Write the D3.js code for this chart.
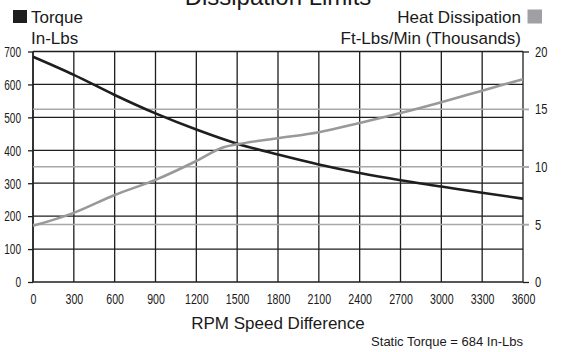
<!DOCTYPE html>
<html>
<head>
<meta charset="utf-8">
<script src="https://cdn.jsdelivr.net/npm/d3@7"></script>
<style>
  html, body { margin: 0; padding: 0; background: #fff; }
  svg { display: block; }
  text { font-family: "Liberation Sans", Arial, sans-serif; fill: #1a1a1a; }
</style>
</head>
<body>
<svg id="chart" width="563" height="352"></svg>
<script>
// ---- data ----
const rpm = [0, 300, 600, 900, 1200, 1500, 1800, 2100, 2400, 2700, 3000, 3300, 3600];
const torque = [684, 629, 568, 512, 463, 420, 387, 357, 331, 309, 290, 271, 253];
const heatRpm = [0, 300, 600, 900, 1200, 1400, 1500, 1800, 2100, 2400, 2700, 3000, 3300, 3600];
const heat = [4.87, 6.0, 7.55, 8.86, 10.5, 11.7, 11.95, 12.48, 13.0, 13.8, 14.66, 15.6, 16.6, 17.6];
const xTicks = [0, 300, 600, 900, 1200, 1500, 1800, 2100, 2400, 2700, 3000, 3300, 3600];
const leftTicks = [0, 100, 200, 300, 400, 500, 600, 700];
const rightTicks = [0, 5, 10, 15, 20];
const heatRefLines = [5, 10, 15];

const svg = d3.select("#chart");
const L = 33, R = 523, T = 51.5, B = 282;

const x = d3.scaleLinear().domain([0, 3600]).range([L, R]);
const yL = d3.scaleLinear().domain([0, 700]).range([B, T]);
const yR = d3.scaleLinear().domain([0, 20]).range([B, T]);

const dark = "#1e1e1e";
const grayLine = "#a8a8a8";
const grayCurve = "#999999";

// vertical grid
svg.append("g").selectAll("line").data(xTicks).join("line")
  .attr("x1", d => x(d)).attr("x2", d => x(d))
  .attr("y1", yL(0)).attr("y2", yL(700))
  .attr("stroke", dark).attr("stroke-width", d => d === 0 ? 1.8 : 1.3);

// horizontal grid
svg.append("g").selectAll("line").data(leftTicks).join("line")
  .attr("x1", x(0)).attr("x2", x(3600))
  .attr("y1", d => yL(d)).attr("y2", d => yL(d))
  .attr("stroke", dark).attr("stroke-width", 1.3);

// heat reference lines (right axis)
svg.append("g").selectAll("line").data(heatRefLines).join("line")
  .attr("x1", x(0)).attr("x2", x(3600) + 6)
  .attr("y1", d => yR(d)).attr("y2", d => yR(d))
  .attr("stroke", grayLine).attr("stroke-width", 1.5);

// axes
function condense(sel, perChar) {
  sel.selectAll("text").each(function() {
    const t = d3.select(this);
    const n = t.text().length;
    t.attr("textLength", n * perChar).attr("lengthAdjust", "spacingAndGlyphs");
  });
}

const gl = svg.append("g").attr("transform", `translate(${L},0)`)
  .call(d3.axisLeft(yL).tickValues(leftTicks).tickSize(5).tickPadding(7).tickFormat(d3.format("d")));
gl.select(".domain").remove();
gl.selectAll(".tick line").attr("stroke", dark).attr("stroke-width", 1.3);
gl.selectAll("text").style("font-size", "15px").style("font-family", "Liberation Sans, Arial, sans-serif").attr("fill", "#1a1a1a");
condense(gl, 5.6);

const gr = svg.append("g").attr("transform", `translate(${R},0)`)
  .call(d3.axisRight(yR).tickValues(rightTicks).tickSize(6).tickPadding(6).tickFormat(d3.format("d")));
gr.select(".domain").remove();
gr.selectAll(".tick line").attr("stroke", d => heatRefLines.includes(d) ? grayLine : dark).attr("stroke-width", 1.3);
gr.selectAll("text").style("font-size", "15px").style("font-family", "Liberation Sans, Arial, sans-serif").attr("fill", "#1a1a1a");
condense(gr, 6.2);

const gb = svg.append("g").attr("transform", `translate(0,${B})`)
  .call(d3.axisBottom(x).tickValues(xTicks).tickSize(0).tickPadding(11).tickFormat(d3.format("d")));
gb.select(".domain").remove();
gb.selectAll("text").style("font-size", "15px").style("font-family", "Liberation Sans, Arial, sans-serif").attr("fill", "#1a1a1a");
condense(gb, 5.9);

// curves
const lineT = d3.line().x((d, i) => x(rpm[i])).y(d => yL(d)).curve(d3.curveMonotoneX);
svg.append("path").attr("d", lineT(torque))
  .attr("fill", "none").attr("stroke", dark).attr("stroke-width", 2.6);

const lineH = d3.line().x((d, i) => x(heatRpm[i])).y(d => yR(d)).curve(d3.curveMonotoneX);
svg.append("path").attr("d", lineH(heat))
  .attr("fill", "none").attr("stroke", grayCurve).attr("stroke-width", 2.6);

// titles / legends
svg.append("text").attr("x", 278).attr("y", 5).attr("text-anchor", "middle")
  .style("font-size", "24px").text("Dissipation Limits");

svg.append("rect").attr("x", 13).attr("y", 10).attr("width", 14).attr("height", 13).attr("fill", dark);
svg.append("text").attr("x", 31).attr("y", 23).style("font-size", "17px").text("Torque");
svg.append("text").attr("x", 31).attr("y", 44).style("font-size", "17px").text("In-Lbs");

svg.append("rect").attr("x", 527.5).attr("y", 9.5).attr("width", 14.5).attr("height", 14).attr("fill", "#a0a0a4");
svg.append("text").attr("x", 521).attr("y", 23).attr("text-anchor", "end").style("font-size", "17px").text("Heat Dissipation");
svg.append("text").attr("x", 521).attr("y", 44).attr("text-anchor", "end").style("font-size", "17px").text("Ft-Lbs/Min (Thousands)");

svg.append("text").attr("x", 278).attr("y", 329).attr("text-anchor", "middle")
  .style("font-size", "17px").text("RPM Speed Difference");
svg.append("text").attr("x", 523).attr("y", 346).attr("text-anchor", "end")
  .style("font-size", "13px").text("Static Torque = 684 In-Lbs");
</script>
</body>
</html>
